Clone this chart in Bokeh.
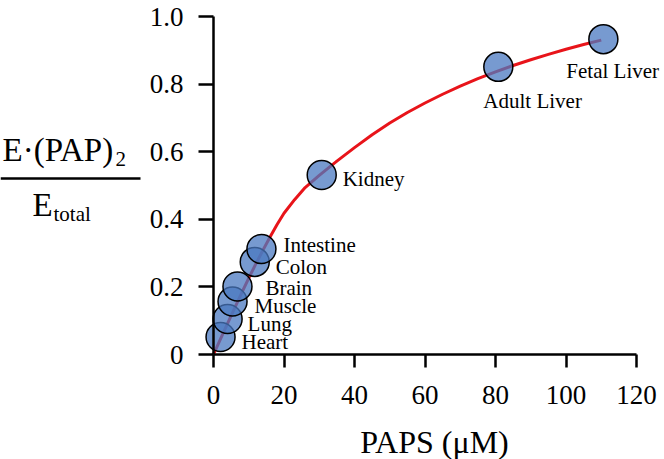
from bokeh.plotting import figure
from bokeh.models import (ColumnDataSource, FixedTicker, CustomJSTickFormatter,
                          LabelSet, Label, BoxAnnotation)
from bokeh.embed import file_html
from bokeh.resources import INLINE

# ---- data ----
tissues = ["Heart", "Lung", "Muscle", "Brain", "Colon", "Intestine",
           "Kidney", "Adult Liver", "Fetal Liver"]
paps = [2.0, 4.0, 5.4, 6.8, 11.7, 13.6, 30.7, 80.8, 110.6]
ratio = [0.052, 0.105, 0.157, 0.201, 0.274, 0.312, 0.531, 0.851, 0.933]

# fitted curve as traced on the picture
curve_x = [0, 2, 4, 6, 8, 10, 12, 14, 16, 18, 20, 23, 26, 30, 35, 40, 45,
           50, 55, 60, 65, 70, 75, 80, 85, 90, 95, 100, 105, 110]
curve_y = [0, 0.046, 0.092, 0.137, 0.182, 0.226, 0.268, 0.308, 0.347,
           0.384, 0.418, 0.458, 0.494, 0.530, 0.572, 0.612, 0.650, 0.685,
           0.716, 0.744, 0.770, 0.794, 0.816, 0.836, 0.855, 0.872, 0.888,
           0.903, 0.917, 0.930]

x_ticks = [0, 20, 40, 60, 80, 100, 120]
y_ticks = [0, 0.2, 0.4, 0.6, 0.8, 1.0]

# label offsets in pixels (right, up)
lab_dx = [21, 20, 22, 28, 21, 22, 21, -15, -37]
lab_dy = [-12, -12, -12, -8, -12, -3, -11, -41, -39]

FONT = "Liberation Serif"

W, H = 664, 459
# where the axes sit on the canvas (pixels)
X0, X1 = 213, 636      # x = 0 and x = 120
Y0, Y1 = 354, 16       # y = 0 and y = 1
xs = (X1 - X0) / 120.0
ys = (Y0 - Y1) / 1.0
x_start, x_end = -X0 / xs, 120 + (W - X1) / xs
y_start, y_end = -(H - Y0) / ys, 1 + Y1 / ys

p = figure(width=W, height=H, x_range=(x_start, x_end),
           y_range=(y_start, y_end), output_backend="svg",
           toolbar_location=None, min_border=0)
p.outline_line_color = None
p.xgrid.visible = False
p.ygrid.visible = False
p.background_fill_color = "white"
p.border_fill_color = "white"

p.line(curve_x, curve_y, line_color="#e8141a", line_width=3,
       line_join="round")

src = ColumnDataSource(dict(x=paps, y=ratio, name=tissues, dx=lab_dx, dy=lab_dy))
p.scatter("x", "y", source=src, size=29, fill_color="#4a78c0",
          fill_alpha=0.75, line_color="black", line_width=1.5)

labels = LabelSet(x="x", y="y", text="name", source=src, x_offset="dx",
                  y_offset="dy", text_font=FONT, text_font_size="21px",
                  text_color="black", text_align="left",
                  text_baseline="alphabetic")
p.add_layout(labels)

for ax in (p.xaxis[0], p.yaxis[0]):
    ax.axis_line_width = 2.5
    ax.axis_line_color = "black"
    ax.major_tick_line_width = 2.5
    ax.major_tick_line_color = "black"
    ax.major_tick_in = 0
    ax.minor_tick_line_color = None
    ax.major_label_text_font = FONT
    ax.major_label_text_font_size = "27px"
    ax.major_label_text_color = "black"
    ax.fixed_location = 0

p.xaxis.ticker = FixedTicker(ticks=x_ticks)
p.xaxis.bounds = (x_ticks[0], x_ticks[-1])
p.yaxis.ticker = FixedTicker(ticks=y_ticks)
p.yaxis.bounds = (y_ticks[0], y_ticks[-1])
p.xaxis.major_tick_out = 13
p.yaxis.major_tick_out = 15
p.xaxis.major_label_standoff = 18
p.yaxis.major_label_standoff = 15
p.yaxis.formatter = CustomJSTickFormatter(
    code="return tick == 0 ? '0' : tick.toFixed(1);")

# annotations placed by canvas pixel, converted to data units
SHIFT = 9   # observed downward drift of alphabetic-baseline labels
def dx(px):
    return (px - X0) / xs
def dy(py):
    return (Y0 - py) / ys

def txt(px, py, s, size, align="left"):
    p.add_layout(Label(x=dx(px), y=dy(py - SHIFT), text=s, text_font=FONT,
                       text_font_size=size, text_align=align,
                       text_baseline="alphabetic", text_color="black"))

txt(434, 450, "PAPS (μM)", "32px", "center")
txt(2, 158, "E·(PAP)", "33px")
txt(115, 167, "2", "21px")
txt(32, 213, "E", "33px")
txt(53, 222, "total", "21px")
p.add_layout(BoxAnnotation(left=dx(0), right=dx(140), top=dy(176.8),
                           bottom=dy(179.3), fill_color="black",
                           fill_alpha=1, line_color=None))

open("out.html", "w").write(file_html(p, INLINE))
